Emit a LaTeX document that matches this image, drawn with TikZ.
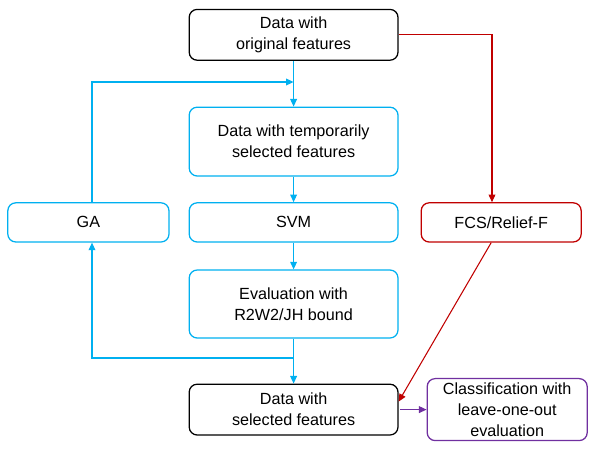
\documentclass[tikz,border=0pt]{standalone}
\usepackage{fontspec}
\setmainfont{Liberation Sans}
\usetikzlibrary{arrows.meta}
\definecolor{gablue}{RGB}{0,176,240}
\definecolor{fcsred}{RGB}{192,0,0}
\definecolor{clspurple}{RGB}{112,48,160}
\begin{document}
\begin{tikzpicture}[
    box/.style={rectangle, draw, rounded corners=0.2cm, line width=0.9pt, align=center,
      inner sep=0pt, font=\fontsize{11.5}{15}\selectfont},
    link/.style={-{Triangle[length=1.9mm,width=1.7mm]}, line width=0.75pt}
  ]
  \useasboundingbox (0,0) rectangle (15,-11.425);
  % Nodes
  \node (orig) [box, black, minimum height=1.27cm, minimum width=5.22cm] at (7.34, -0.87) {Data with\\original features};
  \node (temp) [box, gablue, text=black, minimum height=1.72cm, minimum width=5.22cm] at (7.34, -3.54) {Data with temporarily\\selected features};
  \node (SVM) [box, gablue, text=black, minimum height=0.98cm, minimum width=5.22cm] at (7.34, -5.56) {SVM};
  \node (eval) [box, gablue, text=black, minimum height=1.7cm, minimum width=5.22cm] at (7.34, -7.6) {Evaluation with\\R2W2/JH bound};
  \node (GA) [box, gablue, text=black, minimum height=0.98cm, minimum width=4.03cm] at (2.21, -5.56) {GA};
  \node (FCS) [box, fcsred, text=black, minimum height=0.98cm, minimum width=4.0cm] at (12.53, -5.56) {FCS/Relief-F};
  \node (sel) [box, black, minimum height=1.27cm, minimum width=5.22cm] at (7.34, -10.24) {Data with\\selected features};
  \node (cls) [box, clspurple, text=black, minimum height=1.55cm, minimum width=4.0cm] at (12.68, -10.24) {Classification with\\leave-one-out\\evaluation};
  % Joints
  \coordinate (back) at (7.34, -2.05);
  \coordinate (split) at (7.34, -8.95);
  % Arrows
  \draw[link, gablue] (orig) -- (temp);
  \draw[link, gablue] (temp) -- (SVM);
  \draw[link, gablue] (SVM) -- (eval);
  \draw[link, gablue] (eval) -- (sel);
  \draw[link, gablue] ([xshift=0.09cm]GA.north) |- (back);
  \draw[link, gablue] (split) -| ([xshift=0.09cm]GA.south);
  \draw[link, fcsred] (orig.east) -| ([xshift=-0.23cm]FCS.north);
  \draw[link, fcsred] ([xshift=-0.25cm]FCS.south) -- ([yshift=0.2cm]sel.east);
  \draw[link, clspurple, shorten <=1pt] (sel.east) -- (cls.west);
\end{tikzpicture}
\end{document}
